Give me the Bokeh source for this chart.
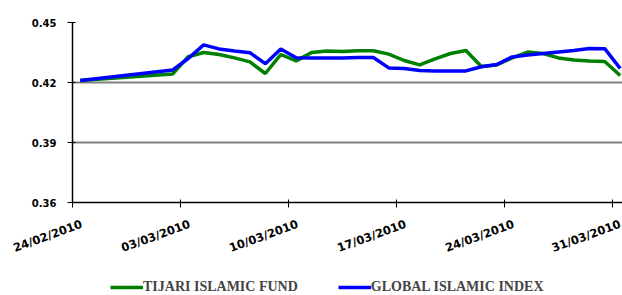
from datetime import datetime, timedelta
from bokeh.plotting import figure
from bokeh.layouts import column
from bokeh.models import (FixedTicker, Range1d, Legend, LegendItem,
                          ColumnDataSource, CustomJSTickFormatter, LinearAxis)
from bokeh.embed import file_html
from bokeh.resources import INLINE

dates = ["24/02/2010", "02/03/2010", "03/03/2010", "04/03/2010", "05/03/2010",
         "06/03/2010", "07/03/2010", "08/03/2010", "09/03/2010", "10/03/2010",
         "11/03/2010", "12/03/2010", "13/03/2010", "14/03/2010", "15/03/2010",
         "16/03/2010", "17/03/2010", "18/03/2010", "19/03/2010", "20/03/2010",
         "21/03/2010", "22/03/2010", "23/03/2010", "24/03/2010", "25/03/2010",
         "26/03/2010", "27/03/2010", "28/03/2010", "29/03/2010", "30/03/2010",
         "31/03/2010"]
tijari = [0.4210, 0.4243, 0.4329, 0.4350, 0.4340, 0.4323, 0.4303, 0.4245,
          0.4340, 0.4308, 0.4350, 0.4358, 0.4355, 0.4359, 0.4359, 0.4342,
          0.4310, 0.4288, 0.4318, 0.4345, 0.4360, 0.4280, 0.4288, 0.4323,
          0.4352, 0.4345, 0.4323, 0.4313, 0.4308, 0.4305, 0.4235]
global_idx = [0.4210, 0.4263, 0.4320, 0.4388, 0.4368, 0.4357, 0.4349, 0.4294,
              0.4368, 0.4324, 0.4323, 0.4323, 0.4323, 0.4325, 0.4325, 0.4273,
              0.4270, 0.4260, 0.4258, 0.4258, 0.4258, 0.4279, 0.4290, 0.4328,
              0.4338, 0.4345, 0.4353, 0.4360, 0.4370, 0.4369, 0.4270]
x_ticks = ["24/02/2010", "03/03/2010", "10/03/2010", "17/03/2010",
           "24/03/2010", "31/03/2010"]
y_ticks = [0.36, 0.39, 0.42, 0.45]
series_names = ["TIJARI ISLAMIC FUND", "GLOBAL ISLAMIC INDEX"]
colors = ["#008000", "#0000FF"]


def d(s):
    return datetime.strptime(s, "%d/%m/%Y")


# points sit at the middle of each day slot (date axis "between tick marks")
xs = [d(s) + timedelta(hours=12) for s in dates]
src = ColumnDataSource(dict(x=xs, t=tijari, g=global_idx))

p = figure(width=622, height=273, output_backend="svg", toolbar_location=None,
           x_axis_type="datetime",
           x_range=Range1d(d(x_ticks[0]), d(x_ticks[0]) + timedelta(days=35.65)),
           y_range=Range1d(y_ticks[0], y_ticks[-1]))
p.min_border_left = 72
p.min_border_top = 22
p.min_border_bottom = 71
p.min_border_right = 0
p.outline_line_color = None
p.background_fill_color = "white"
p.border_fill_color = "white"

p.xgrid.grid_line_color = None
p.ygrid.grid_line_color = "#808080"
p.ygrid.grid_line_width = 2

p.yaxis.ticker = FixedTicker(ticks=y_ticks)
p.yaxis.formatter = CustomJSTickFormatter(code="return tick.toFixed(2);")
x_tick_ms = [d(s).timestamp() * 1000 for s in x_ticks]
p.xaxis.ticker = FixedTicker(ticks=x_tick_ms)
p.xaxis.formatter = CustomJSTickFormatter(code="return '';")
p.xaxis.major_label_text_font_size = "0px"
p.xaxis.major_label_standoff = 0
for ax in (p.xaxis, p.yaxis):
    ax.axis_line_color = "black"
    ax.axis_line_width = 1.5
    ax.major_tick_line_color = "black"
    ax.major_tick_in = 3
    ax.major_tick_out = 5
    ax.minor_tick_line_color = None
p.yaxis.major_label_text_font = "DejaVu Sans"
p.yaxis.major_label_text_font_style = "bold"
p.yaxis.major_label_text_font_size = "10px"
p.yaxis.major_label_text_color = "black"
p.yaxis.major_label_standoff = 11

# second (label-only) date axis: labels sit a little right of each tick
shift_ms = 0.6 * 86400000
lab_axis = LinearAxis(
    ticker=FixedTicker(ticks=[t + shift_ms for t in x_tick_ms]),
    formatter=CustomJSTickFormatter(args=dict(shift=shift_ms), code="""
        const dt = new Date(Math.round(tick - shift));
        const dd = String(dt.getUTCDate()).padStart(2, '0');
        const mm = String(dt.getUTCMonth() + 1).padStart(2, '0');
        return dd + '/' + mm + '/' + dt.getUTCFullYear();
    """),
    axis_line_color=None, major_tick_line_color=None, minor_tick_line_color=None,
    major_tick_in=0, major_tick_out=0, major_label_standoff=16,
    major_label_orientation=0.35, major_label_text_font="DejaVu Sans",
    major_label_text_font_style="bold", major_label_text_font_size="11.5px",
    major_label_text_color="black")
p.add_layout(lab_axis, "below")

p.line("x", "t", source=src, line_color=colors[0], line_width=3.5)
p.line("x", "g", source=src, line_color=colors[1], line_width=3.5)

# legend strip underneath (its lines use the same data but lie outside its range)
q = figure(width=622, height=22, output_backend="svg", toolbar_location=None,
           x_range=Range1d(0, 1), y_range=Range1d(0, 1),
           min_border=0, outline_line_color=None)
q.axis.visible = False
q.grid.visible = False
k1 = q.line("x", "t", source=src, line_color=colors[0], line_width=3.5)
k2 = q.line("x", "g", source=src, line_color=colors[1], line_width=3.5)
legend = Legend(items=[LegendItem(label=series_names[0], renderers=[k1]),
                       LegendItem(label=series_names[1], renderers=[k2])],
                orientation="horizontal", location=(38, 0),
                background_fill_alpha=0, border_line_color=None,
                label_text_font="Liberation Serif", label_text_font_style="bold",
                label_text_font_size="14px", glyph_width=33, glyph_height=12,
                label_standoff=0, spacing=40, padding=0, margin=0)
q.add_layout(legend, "center")

open("out.html", "w").write(file_html(column(p, q, spacing=0), INLINE))
